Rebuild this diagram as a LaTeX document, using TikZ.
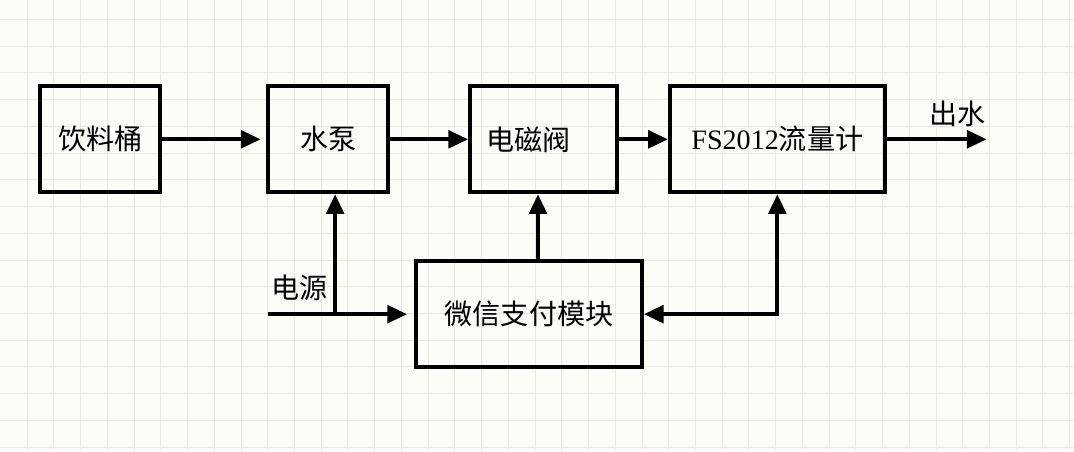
\documentclass[tikz,border=0pt]{standalone}
\usepackage{fontspec}
\setmainfont{Liberation Serif}
\newfontfamily\cjk{Noto Sans CJK SC}
\usetikzlibrary{arrows.meta}
\definecolor{paper}{HTML}{FDFCF7}
\definecolor{gridc}{HTML}{EAE8E0}

\begin{document}
\begin{tikzpicture}[x=0.025cm, y=-0.025cm, >={Triangle[length=14pt,width=12.5pt]},
		box/.style={draw, line width=2.8pt, minimum height=2.65cm, inner sep=0pt, font=\fontsize{20}{24}\selectfont\cjk},
		link/.style={line width=2.8pt, ->},
		lbl/.style={inner sep=0pt, font=\fontsize{20}{24}\selectfont\cjk}]
			% background paper and grid
			\fill[paper] (0,0) rectangle (1074,451);
			\foreach \i in {1,...,40} \draw[gridc, line width=0.6pt] (26.75*\i,0) -- (26.75*\i,451);
			\foreach \j in {0,...,16} \draw[gridc, line width=0.6pt] (0,19+26.75*\j) -- (1074,19+26.75*\j);
			% blocks
			\node[box, minimum width=3cm] (drum) at (100,139) {饮料桶};
			\node[box, minimum width=3cm] (pump) at (328,139) {水泵};
			\node[box, minimum width=3.675cm] (valve) at (543.5,139) {\hspace*{-0.75cm}电磁阀};
			\node[box, minimum width=5.375cm] (meter) at (777.5,139) {{\rmfamily FS2012}流量计};
			\node[box, minimum width=5.65cm] (pay) at (529,314) {微信支付模块};
			\node[lbl] (power) at (299,288) {电源};
			\node[lbl] (outlbl) at (958,114) {出水};
			\coordinate (src) at (268,314);
			\coordinate (split) at (335,314);
			\coordinate (ctl) at (538,250);
			\coordinate (out) at (987,139);
			% water line
			\draw[link, shorten >=4pt] (drum) -- (pump);
			\draw[link] (pump) -- (valve);
			\draw[link] (valve) -- (meter);
			\draw[link] (meter) -- (out);
			% power and control
			\draw[link, shorten >=5pt] (src) -- (pay);
			\draw[link] (split) -- (split |- pump.south);
			\draw[link] (pay.north -| ctl) -- (valve.south -| ctl);
			\draw[link, <->] (pay.east) -| (meter.south);
		\end{tikzpicture}
\end{document}
